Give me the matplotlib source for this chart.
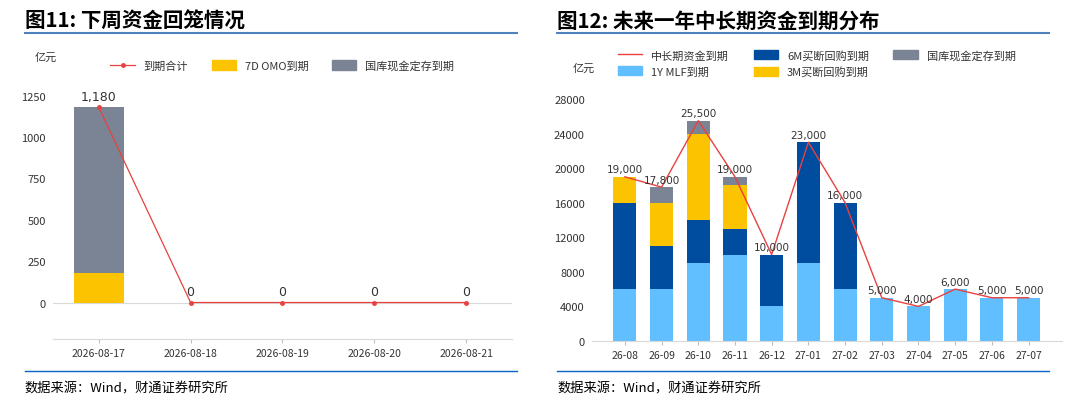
import matplotlib.pyplot as plt
import numpy as np
from matplotlib.lines import Line2D

plt.rcParams['font.family'] = ['Noto Sans CJK SC', 'DejaVu Sans']

# left chart data
days = ["2026-08-17", "2026-08-18", "2026-08-19", "2026-08-20", "2026-08-21"]
omo_7d = [180, 0, 0, 0, 0]
treasury_week = [1000, 0, 0, 0, 0]
total_week = [1180, 0, 0, 0, 0]

# right chart data
months = ["26-08", "26-09", "26-10", "26-11", "26-12", "27-01",
          "27-02", "27-03", "27-04", "27-05", "27-06", "27-07"]
mlf_1y = [6000, 6000, 9000, 10000, 4000, 9000, 6000, 5000, 4000, 6000, 5000, 5000]
repo_6m = [10000, 5000, 5000, 3000, 6000, 14000, 10000, 0, 0, 0, 0, 0]
repo_3m = [3000, 5000, 10000, 5000, 0, 0, 0, 0, 0, 0, 0, 0]
treasury_year = [0, 1800, 1500, 1000, 0, 0, 0, 0, 0, 0, 0, 0]
total_year = [19000, 17800, 25500, 19000, 10000, 23000, 16000, 5000, 4000, 6000, 5000, 5000]

c_red = "#E8413F"
c_yellow = "#FBC300"
c_gray = "#7B8494"
c_dblue = "#004C9E"
c_lblue = "#61BFFF"
txt = "#333333"

fig = plt.figure(figsize=(10.8, 4.1), dpi=100)

def style_axis(ax):
    for s in ["top", "right", "left"]:
        ax.spines[s].set_visible(False)
    ax.spines["bottom"].set_color("#D9D9D9")
    ax.tick_params(axis="y", length=0, labelsize=8, labelcolor=txt, pad=5)
    ax.tick_params(axis="x", length=3, color="#BFBFBF", labelsize=7.5, labelcolor=txt)

# ---------- left chart ----------
ax1 = fig.add_axes([0.049, 0.171, 0.425, 0.609])
x1 = np.arange(len(days))
ax1.bar(x1, omo_7d, width=0.55, color=c_yellow)
ax1.bar(x1, treasury_week, width=0.55, bottom=omo_7d, color=c_gray)
ax1.plot(x1, total_week, color=c_red, lw=0.9, marker="o", ms=2.5)
for xi, v in zip(x1, total_week):
    ax1.text(xi, v + 25, f"{v:,}", ha="center", va="bottom", fontsize=9, color=txt,
             family="DejaVu Sans")
ax1.axhline(0, color="#D9D9D9", lw=0.8, zorder=0)
ax1.set_xlim(-0.5, 4.5)
ax1.set_ylim(-220, 1290)
ax1.set_yticks([0, 250, 500, 750, 1000, 1250])
ax1.set_xticks(x1)
ax1.set_xticklabels(days)
style_axis(ax1)

h1 = [Line2D([], [], color=c_red, lw=0.9, marker="o", ms=2.5),
      plt.Rectangle((0, 0), 1, 1, color=c_yellow),
      plt.Rectangle((0, 0), 1, 1, color=c_gray)]
fig.legend(h1, ["到期合计", "7D OMO到期", "国库现金定存到期"], ncol=3, frameon=False,
           loc="center left", bbox_to_anchor=(0.093, 0.838), fontsize=8,
           handlelength=2.2, handleheight=0.9, handletextpad=0.8,
           columnspacing=2.1, labelcolor=txt)
fig.text(0.032, 0.852, "亿元", fontsize=8, color=txt)

# ---------- right chart ----------
ax2 = fig.add_axes([0.548, 0.166, 0.435, 0.590])
x2 = np.arange(len(months))
b1 = np.array(mlf_1y)
b2 = b1 + np.array(repo_6m)
b3 = b2 + np.array(repo_3m)
ax2.bar(x2, mlf_1y, width=0.63, color=c_lblue)
ax2.bar(x2, repo_6m, width=0.63, bottom=b1, color=c_dblue)
ax2.bar(x2, repo_3m, width=0.63, bottom=b2, color=c_yellow)
ax2.bar(x2, treasury_year, width=0.63, bottom=b3, color=c_gray)
ax2.plot(x2, total_year, color=c_red, lw=1.0)
for xi, v in zip(x2, total_year):
    ax2.text(xi, v + 300, f"{v:,}", ha="center", va="bottom", fontsize=7.5, color=txt,
             family="DejaVu Sans")
ax2.set_xlim(-0.9, 11.9)
ax2.set_ylim(0, 28000)
ax2.set_yticks(range(0, 28001, 4000))
ax2.set_xticks(x2)
ax2.set_xticklabels(months)
style_axis(ax2)

h2 = [Line2D([], [], color=c_red, lw=1.0),
      plt.Rectangle((0, 0), 1, 1, color=c_lblue),
      plt.Rectangle((0, 0), 1, 1, color=c_dblue),
      plt.Rectangle((0, 0), 1, 1, color=c_yellow),
      plt.Rectangle((0, 0), 1, 1, color=c_gray)]
fig.legend(h2, ["中长期资金到期", "1Y MLF到期", "6M买断回购到期", "3M买断回购到期", "国库现金定存到期"],
           ncol=3, frameon=False, loc="center left", bbox_to_anchor=(0.563, 0.843),
           fontsize=8, handlelength=2.2, handleheight=0.9, columnspacing=2.2,
           labelspacing=0.5, labelcolor=txt)
fig.text(0.530, 0.825, "亿元", fontsize=8, color=txt)

# ---------- titles and footers ----------
fig.text(0.023, 0.947, "图11: 下周资金回笼情况", fontsize=14.8, fontweight="bold", va="center")
fig.text(0.516, 0.947, "图12: 未来一年中长期资金到期分布", fontsize=14.8, fontweight="bold", va="center")
fig.add_artist(Line2D([0.023, 0.479], [0.917, 0.917], color="#4F81BD", lw=1.5))
fig.add_artist(Line2D([0.516, 0.971], [0.917, 0.917], color="#4F81BD", lw=1.5))
fig.add_artist(Line2D([0.023, 0.479], [0.093, 0.093], color="#0563C1", lw=1.0))
fig.add_artist(Line2D([0.516, 0.971], [0.093, 0.093], color="#0563C1", lw=1.0))
fig.text(0.023, 0.050, "数据来源：Wind，财通证券研究所", fontsize=9.5, va="center")
fig.text(0.516, 0.050, "数据来源：Wind，财通证券研究所", fontsize=9.5, va="center")

fig.savefig("out.png", dpi=100)
